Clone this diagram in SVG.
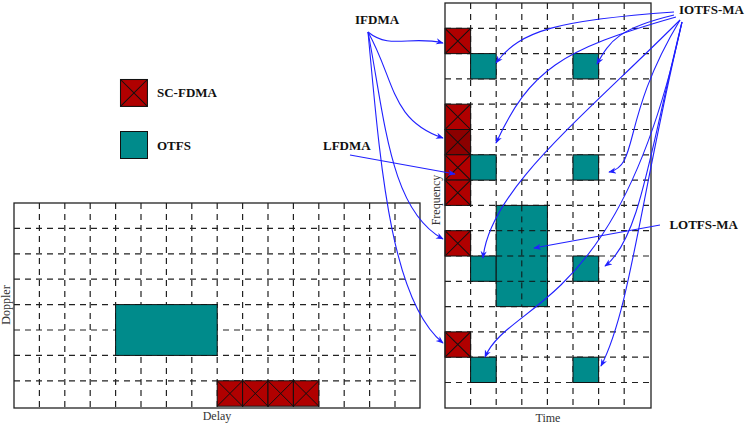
<svg xmlns="http://www.w3.org/2000/svg" width="747" height="426" viewBox="0 0 747 426">
<style>
.g{stroke:#222;stroke-width:1.2;stroke-dasharray:6,5;fill:none}
.fr{fill:none;stroke:#222;stroke-width:1.3}
.r{fill:#b00000;stroke:#111;stroke-width:1}
.rd{fill:#8c0000;stroke:#111;stroke-width:1}
.x{stroke:#111;stroke-width:1}
.t{fill:#008b8b;stroke:#111;stroke-width:1}
.a{fill:none;stroke:#2020ff;stroke-width:1.1;marker-end:url(#ah)}
.lb{font-family:"Liberation Serif",serif;font-weight:bold;font-size:13px;fill:#111}
.ax{font-family:"Liberation Serif",serif;font-size:12px;fill:#333}
</style>
<defs>
<marker id="ah" viewBox="0 0 10 10" refX="9" refY="5" markerWidth="7" markerHeight="7" orient="auto-start-reverse"><path d="M0,1 L10,5 L0,9 L3,5 Z" fill="#2020ff"/></marker>
<g id="rx"><rect class="r" x="0" y="0" width="25.4" height="25.4"/><path class="x" d="M0,0L25.4,25.4M25.4,0L0,25.4"/></g>
</defs>
<rect width="747" height="426" fill="#fff"/>
<g id="dd-grid">
<path class="g" d="M39.4,203V408M64.8,203V408M90.2,203V408M115.6,203V408M141,203V408M166.4,203V408M191.8,203V408M217.2,203V408M242.6,203V408M268,203V408M293.4,203V408M318.8,203V408M344.2,203V408M369.6,203V408M395,203V408"/>
<path class="g" d="M14,228.4H420M14,253.8H420M14,279.2H420M14,304.6H420M14,330H420M14,355.4H420M14,380.8H420"/>
<rect class="t" x="115.6" y="304.6" width="101.6" height="50.8"/>
<use href="#rx" x="217.2" y="380.8"/>
<use href="#rx" x="242.6" y="380.8"/>
<use href="#rx" x="268" y="380.8"/>
<use href="#rx" x="293.4" y="380.8"/>
<rect class="fr" x="14" y="203" width="406" height="205"/>
<text class="ax" x="217" y="420" text-anchor="middle">Delay</text>
<text class="ax" transform="translate(10,305) rotate(-90)" text-anchor="middle">Doppler</text>
</g>
<g id="tf-grid">
<path class="g" d="M470.6,3V408M496.2,3V408M521.8,3V408M547.4,3V408M573,3V408M598.6,3V408M624.2,3V408"/>
<path class="g" d="M445,28.3H651M445,53.6H651M445,78.9H651M445,104.2H651M445,129.5H651M445,154.8H651M445,180.1H651M445,205.4H651M445,230.7H651M445,256H651M445,281.3H651M445,306.6H651M445,331.9H651M445,357.2H651M445,382.5H651"/>
<g transform="translate(445,28.3) scale(1.008,0.996)"><use href="#rx"/></g>
<g transform="translate(445,104.2) scale(1.008,0.996)"><use href="#rx"/></g>
<g transform="translate(445,129.5) scale(1.008,0.996)"><rect class="rd" width="25.4" height="25.4"/><path class="x" d="M0,0L25.4,25.4M25.4,0L0,25.4"/></g>
<g transform="translate(445,154.8) scale(1.008,0.996)"><use href="#rx"/></g>
<g transform="translate(445,180.1) scale(1.008,0.996)"><use href="#rx"/></g>
<g transform="translate(445,230.7) scale(1.008,0.996)"><use href="#rx"/></g>
<g transform="translate(445,331.9) scale(1.008,0.996)"><use href="#rx"/></g>
<rect class="t" x="470.6" y="53.6" width="25.6" height="25.3"/>
<rect class="t" x="573" y="53.6" width="25.6" height="25.3"/>
<rect class="t" x="470.6" y="154.8" width="25.6" height="25.3"/>
<rect class="t" x="573" y="154.8" width="25.6" height="25.3"/>
<rect class="t" x="470.6" y="256" width="25.6" height="25.3"/>
<rect class="t" x="573" y="256" width="25.6" height="25.3"/>
<rect class="t" x="470.6" y="357.2" width="25.6" height="25.3"/>
<rect class="t" x="573" y="357.2" width="25.6" height="25.3"/>
<rect class="t" x="496.2" y="205.4" width="51.2" height="101.2"/>
<path class="x" d="M521.8,205.4V306.6M496.2,230.7H547.4M496.2,256H547.4M496.2,281.3H547.4" stroke-dasharray="6,5"/>
<rect class="fr" x="445" y="3" width="206" height="405"/>
<text class="ax" x="548" y="422" text-anchor="middle">Time</text>
<text class="ax" transform="translate(440,200) rotate(-90)" text-anchor="middle">Frequency</text>
</g>
<g id="legend">
<g transform="translate(120.5,79.5) scale(1.06)"><use href="#rx"/></g>
<text class="lb" x="157" y="97">SC-FDMA</text>
<rect class="t" x="120.5" y="131.5" width="27" height="27"/>
<text class="lb" x="157" y="150">OTFS</text>
</g>
<g id="labels">
<text class="lb" x="355" y="24">IFDMA</text>
<text class="lb" x="744" y="14" text-anchor="end">IOTFS-MA</text>
<text class="lb" x="323" y="150">LFDMA</text>
<text class="lb" x="738" y="229" text-anchor="end">LOTFS-MA</text>
</g>
<g id="connectors">
<path class="a" d="M368,32C390,50 410,35 443,43"/>
<path class="a" d="M368,32C395,80 390,120 443,138"/>
<path class="a" d="M368,32C385,120 390,210 443,239"/>
<path class="a" d="M368,32C380,160 390,300 443,343"/>
<path class="a" d="M350,155L455,174"/>
<path class="a" d="M674,12C560,20 520,30 496,63"/>
<path class="a" d="M674,15C620,28 610,40 597,64"/>
<path class="a" d="M676,17C560,50 530,70 496,143"/>
<path class="a" d="M680,20C620,120 640,165 609,172"/>
<path class="a" d="M680,20C580,120 490,190 483,258"/>
<path class="a" d="M682,22C650,150 640,240 605,266"/>
<path class="a" d="M682,22C620,310 510,300 485,357"/>
<path class="a" d="M682,22C640,200 630,310 601,366"/>
<path class="a" d="M660,225L534,248"/>
</g>
</svg>
